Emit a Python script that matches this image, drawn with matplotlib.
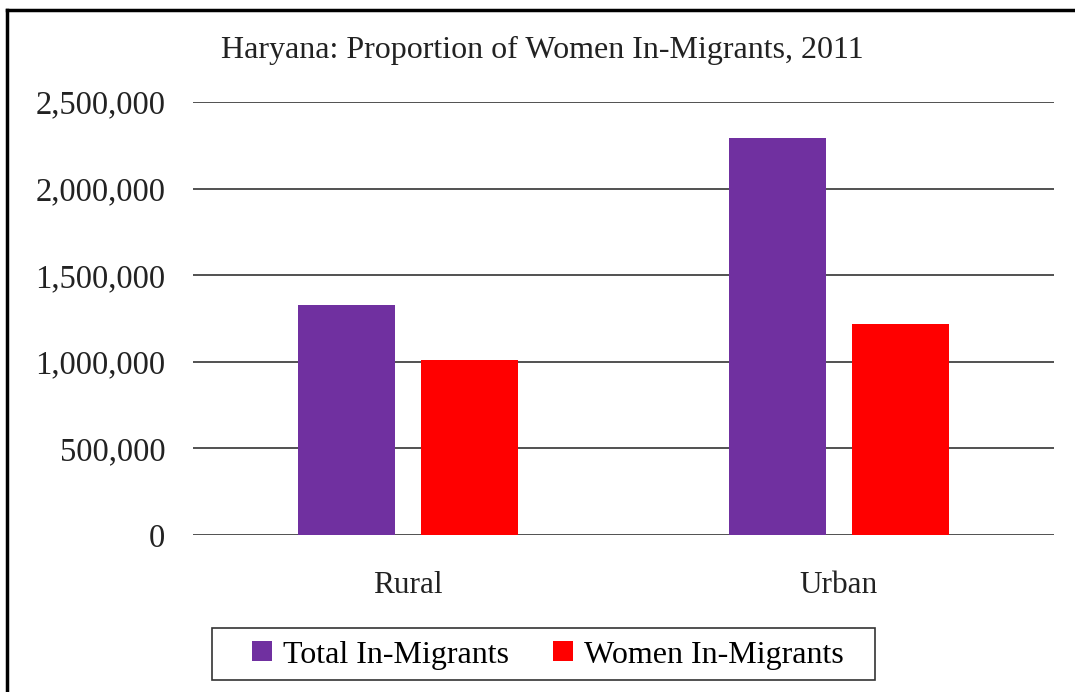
import matplotlib.pyplot as plt
import matplotlib.lines as mlines
import matplotlib.patches as mpatches
import numpy as np
from matplotlib.ticker import FuncFormatter

plt.rcParams['font.family'] = ['Liberation Serif', 'DejaVu Serif']

# Datos
categorias = ["Rural", "Urban"]
total_migrantes = [1330000, 2294000]
mujeres_migrantes = [1010000, 1218000]
series = ["Total In-Migrants", "Women In-Migrants"]
colores = ["#7030a0", "#ff0000"]

W, H = 1075, 692
fig = plt.figure(figsize=(W / 100, H / 100), dpi=100)
ax = fig.add_axes([193 / W, 1 - 535 / H, 861 / W, 433 / H])

x = np.arange(len(categorias))
ancho = 0.225
ax.bar(x - 0.143, total_migrantes, ancho, color=colores[0], label=series[0])
ax.bar(x + 0.143, mujeres_migrantes, ancho, color=colores[1], label=series[1])

ax.set_xlim(-0.5, 1.5)
ax.set_ylim(0, 2500000)
ax.set_yticks(np.arange(0, 2500001, 500000))
ax.yaxis.set_major_formatter(FuncFormatter(lambda v, p: f"{int(v):,}"))
ax.set_xticks(x)
ax.set_xticklabels(categorias)
ax.tick_params(axis='y', length=0, labelsize=23.5, colors='#222222', pad=20)
ax.tick_params(axis='x', length=0, labelsize=22.5, colors='#222222', pad=26)
ax.grid(axis='y', color='#333333', linewidth=1.2)
ax.set_axisbelow(True)
for s in ax.spines.values():
    s.set_visible(False)

fig.text(542 / W, 1 - 50 / H, "Haryana: Proportion of Women In-Migrants, 2011",
         ha='center', va='center', fontsize=23, color='#222222')

# Leyenda sin marco, con rectángulo dibujado aparte
leg = fig.legend(loc='center', bbox_to_anchor=(548 / W, 1 - 655 / H),
                 ncol=2, fontsize=23, frameon=False,
                 handlelength=0.6, handleheight=0.6, handletextpad=0.35,
                 columnspacing=1.4, borderpad=0.3)
fig.add_artist(mpatches.Rectangle((212 / W, 1 - 680 / H), 663 / W, 52 / H,
                                  fill=False, edgecolor='#333333', linewidth=1.2,
                                  transform=fig.transFigure))

# Marco de la figura (izquierda y arriba)
fig.add_artist(mlines.Line2D([7 / W, 7 / W], [0, 1 - 10 / H], color='black', linewidth=2.5, transform=fig.transFigure))
fig.add_artist(mlines.Line2D([7 / W, 1], [1 - 10 / H, 1 - 10 / H], color='black', linewidth=2.5, transform=fig.transFigure))

fig.savefig("out.png", dpi=100)
